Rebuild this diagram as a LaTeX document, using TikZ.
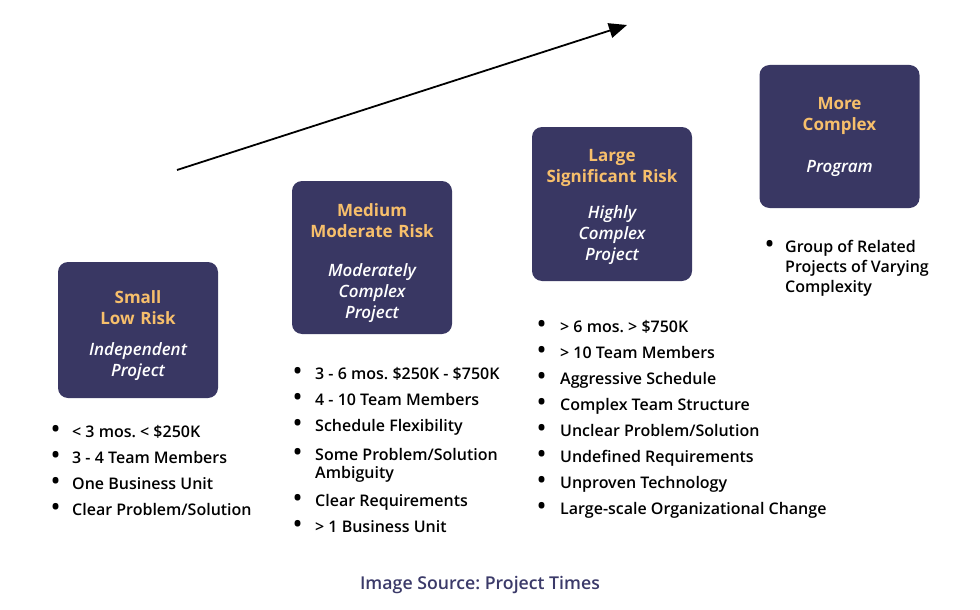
\documentclass[tikz,border=0pt]{standalone}
\usepackage{fontspec}
\setmainfont{Open Sans}[UprightFont={* Semibold}, ItalicFont={* Semibold Italic},
  BoldFont={* Bold}, BoldItalicFont={* Bold Italic}]
\usepackage{tikz}
\usetikzlibrary{arrows.meta}
\definecolor{boxfill}{HTML}{393763}
\definecolor{boxtitle}{HTML}{F7BF6B}
\definecolor{srctext}{HTML}{3B3A69}
\newcommand{\dotmark}[1][21pt]{\makebox[#1][l]{\fontsize{24}{20}\selectfont\raisebox{-0.5pt}{\textbullet}}}
\newcommand{\topgap}[1][24pt]{\rule{0pt}{#1}}
\frenchspacing

\begin{document}
\begin{tikzpicture}[x=1pt, y=-1pt,
  level/.style={rectangle, rounded corners=10pt, fill=boxfill, minimum width=160pt,
                text width=156pt, align=center, text=white, inner sep=0pt,
                font=\fontsize{17}{21}\selectfont},
  traits/.style={anchor=north west, inner sep=0pt, font=\fontsize{16}{20}\selectfont},
  growth/.style={-{Triangle[length=18pt, width=15pt]}, line width=1.8pt},
  source/.style={font=\fontsize{17.7}{20}\selectfont, text=srctext},
]
\useasboundingbox (0,0) rectangle (980,610);

\coordinate (start) at (177,170);
\coordinate (tip) at (627,25);
\draw[growth] (start) -- (tip);

\node[level, minimum height=136pt] (small) at (138,330)
  {\topgap{\bfseries\color{boxtitle}Small\\Low Risk}\\[10pt]{\itshape Independent\\Project}};
\node[level, minimum height=153pt] (medium) at (372,257.5)
  {\topgap{\bfseries\color{boxtitle}Medium\\Moderate Risk}\\[18pt]{\itshape Moderately\\Complex\\Project}};
\node[level, minimum height=154pt] (large) at (612,204)
  {\topgap[18pt]{\bfseries\color{boxtitle}Large\\Significant Risk}\\[15pt]{\itshape Highly\\Complex\\Project}};
\node[level, minimum height=143pt] (program) at (839.5,136.5)
  {{\bfseries\color{boxtitle}More\\Complex}\\[21pt]{\itshape Program}};

\node[traits] (smalllist) at (51,423) {\begin{tabular}{@{}l@{}l@{}}
  \dotmark & < 3 mos. < \$250K \\[6pt]
  \dotmark & 3 - 4 Team Members \\[6pt]
  \dotmark & One Business Unit \\[6pt]
  \dotmark & Clear Problem/Solution
\end{tabular}};
\node[traits] (mediumlist) at (293,365) {\begin{tabular}{@{}l@{}l@{}}
  \dotmark[22pt] & 3 - 6 mos. \$250K - \$750K \\[6pt]
  \dotmark[22pt] & 4 - 10 Team Members \\[6pt]
  \dotmark[22pt] & Schedule Flexibility \\[9pt]
  \dotmark[22pt] & Some Problem/Solution \\[-2pt]
                 & Ambiguity \\[8pt]
  \dotmark[22pt] & Clear Requirements \\[6pt]
  \dotmark[22pt] & > 1 Business Unit
\end{tabular}};
\node[traits] (largelist) at (537,318) {\begin{tabular}{@{}l@{}l@{}}
  \dotmark[23pt] & > 6 mos. > \$750K \\[6pt]
  \dotmark[23pt] & > 10 Team Members \\[6pt]
  \dotmark[23pt] & Aggressive Schedule \\[6pt]
  \dotmark[23pt] & Complex Team Structure \\[6pt]
  \dotmark[23pt] & Unclear Problem/Solution \\[6pt]
  \dotmark[23pt] & Undefined Requirements \\[6pt]
  \dotmark[23pt] & Unproven Technology \\[6pt]
  \dotmark[23pt] & Large-scale Organizational Change
\end{tabular}};
\node[traits] (programlist) at (765,238) {\begin{tabular}{@{}l@{}l@{}}
  \dotmark[20pt] & Group of Related \\
                 & Projects of Varying \\
                 & Complexity
\end{tabular}};

\node[source] (credit) at (480,585) {Image Source: Project Times};

\end{tikzpicture}
\end{document}
